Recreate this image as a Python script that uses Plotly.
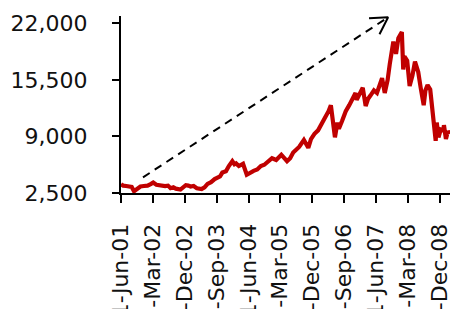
import math
import datetime as dt
import plotly.graph_objects as go

# ---- data ----
dates = [
    "2001-06-01", "2001-06-20", "2001-07-15", "2001-08-15", "2001-09-01", "2001-09-21",
    "2001-10-15", "2001-11-15", "2001-12-15", "2002-01-15", "2002-02-15", "2002-03-05",
    "2002-04-01", "2002-05-01", "2002-05-20", "2002-06-15", "2002-07-10", "2002-08-01",
    "2002-08-25", "2002-09-15", "2002-10-25", "2002-11-15", "2002-12-10", "2002-12-31",
    "2003-01-20", "2003-02-15", "2003-03-15", "2003-04-25", "2003-05-20", "2003-06-15",
    "2003-07-15", "2003-08-15", "2003-09-10", "2003-09-30", "2003-10-20", "2003-11-20",
    "2003-12-15", "2004-01-14", "2004-02-01", "2004-02-15", "2004-03-10", "2004-04-15",
    "2004-05-17", "2004-06-15", "2004-07-15", "2004-08-15", "2004-09-15", "2004-10-15",
    "2004-11-15", "2004-12-20", "2005-01-25", "2005-02-25", "2005-03-10", "2005-04-28",
    "2005-05-25", "2005-06-20", "2005-07-15", "2005-08-10", "2005-09-20", "2005-10-28",
    "2005-11-20", "2005-12-20", "2006-01-20", "2006-02-15", "2006-03-20", "2006-04-20",
    "2006-05-10", "2006-05-25", "2006-06-14", "2006-07-05", "2006-07-18", "2006-08-15",
    "2006-09-15", "2006-10-15", "2006-11-15", "2006-12-08", "2006-12-18", "2007-01-10",
    "2007-02-08", "2007-03-05", "2007-03-25", "2007-04-15", "2007-05-15", "2007-06-10",
    "2007-07-24", "2007-08-16", "2007-09-10", "2007-09-28", "2007-10-17", "2007-10-29",
    "2007-11-21", "2007-12-11", "2008-01-10", "2008-01-22", "2008-02-01", "2008-02-25",
    "2008-03-17", "2008-04-10", "2008-05-02", "2008-05-30", "2008-06-20", "2008-07-16",
    "2008-07-31", "2008-08-18", "2008-09-10", "2008-09-18", "2008-10-06", "2008-10-27",
    "2008-11-05", "2008-11-20", "2008-12-10", "2008-12-31", "2009-01-06", "2009-01-23",
    "2009-02-09", "2009-02-25",
]
index_values = [
    3500, 3350, 3300, 3250, 3200, 2700,
    2950, 3250, 3300, 3350, 3550, 3700,
    3450, 3400, 3250, 3300, 3350, 3050,
    3150, 3000, 2900, 3100, 3400, 3350,
    3250, 3300, 3050, 2950, 3150, 3550,
    3750, 4100, 4300, 4400, 4850, 5000,
    5600, 6150, 5800, 5900, 5600, 5850,
    4600, 4850, 5050, 5200, 5600, 5750,
    6100, 6500, 6300, 6700, 6900, 6150,
    6500, 7150, 7400, 7800, 8600, 7700,
    8700, 9300, 9700, 10300, 11200, 11900,
    12600, 10800, 8900, 10600, 9900, 10800,
    11900, 12600, 13500, 14000, 13200, 13900,
    14600, 12500, 13300, 13700, 14300, 14000,
    15700, 14000, 15500, 17300, 18700, 19900,
    18500, 20300, 21000, 16700, 18200, 17700,
    14800, 16000, 17600, 16400, 14600, 12600,
    14300, 14900, 14400, 13300, 11800, 8500,
    10600, 8900, 9800, 9700, 10300, 8700,
    9600, 9300,
]

tick_dates = ["2001-06-01", "2002-03-01", "2002-12-01", "2003-09-01", "2004-06-01",
              "2005-03-01", "2005-12-01", "2006-09-01", "2007-06-01", "2008-03-01",
              "2008-12-01"]
tick_labels = ["1-Jun-01", "1-Mar-02", "1-Dec-02", "1-Sep-03", "1-Jun-04",
               "1-Mar-05", "1-Dec-05", "1-Sep-06", "1-Jun-07", "1-Mar-08",
               "1-Dec-08"]
y_ticks = [2500, 9000, 15500, 22000]

arrow_start = ("2001-12-07", 4300)
arrow_end = ("2007-09-14", 22700)

# ---- layout geometry ----
W, H = 450, 309
ML, MR, MT, MB = 121, 0, 16, 116
x_range = ["2001-06-01", "2009-02-27"]
y_range = [2500, 22850]

plot_w = W - ML - MR
plot_h = H - MT - MB
d0 = dt.date.fromisoformat(x_range[0])
d1 = dt.date.fromisoformat(x_range[1])
px_per_day = plot_w / (d1 - d0).days
px_per_val = plot_h / (y_range[1] - y_range[0])

# open arrowhead arms computed in pixel space, converted back to data
sx = (dt.date.fromisoformat(arrow_start[0]) - d0).days * px_per_day
sy = -(arrow_start[1] - y_range[0]) * px_per_val
ex = (dt.date.fromisoformat(arrow_end[0]) - d0).days * px_per_day
ey = -(arrow_end[1] - y_range[0]) * px_per_val
back = math.atan2(sy - ey, sx - ex)
arm = 19
head_x, head_y = [], []
for sgn in (1, None, -1):
    if sgn is None:
        head_x.append(arrow_end[0]); head_y.append(arrow_end[1]); continue
    a = back + sgn * math.radians(30)
    dx = arm * math.cos(a); dy = arm * math.sin(a)
    dd = dt.date.fromisoformat(arrow_end[0]) + dt.timedelta(days=dx / px_per_day)
    head_x.append(dd.isoformat()); head_y.append(arrow_end[1] - dy / px_per_val)

fig = go.Figure()
fig.add_trace(go.Scatter(x=dates, y=index_values, mode="lines",
                         line=dict(color="#C00000", width=4.2), hoverinfo="skip"))
fig.add_trace(go.Scatter(x=[arrow_start[0], arrow_end[0]], y=[arrow_start[1], arrow_end[1]],
                         mode="lines", line=dict(color="black", width=2, dash="8px,6px"),
                         hoverinfo="skip"))
fig.add_trace(go.Scatter(x=head_x, y=head_y, mode="lines",
                         line=dict(color="black", width=2), hoverinfo="skip"))

font = dict(family="DejaVu Sans", size=22, color="#111111")
fig.update_layout(
    width=W, height=H, showlegend=False,
    margin=dict(l=ML, r=MR, t=MT, b=MB, pad=0),
    paper_bgcolor="white", plot_bgcolor="white",
    font=font,
    xaxis=dict(type="date", range=x_range, tickvals=tick_dates, ticktext=tick_labels,
               tickangle=-90, ticks="outside", ticklen=8, tickwidth=2, tickcolor="black",
               showline=True, linecolor="black", linewidth=2, showgrid=False,
               zeroline=False, automargin=False, ticklabelstandoff=12, tickfont=font,
               ticklabeloverflow="allow"),
    yaxis=dict(range=y_range, tickvals=y_ticks, tickformat=",", ticks="outside",
               ticklen=7, tickwidth=2, tickcolor="black", showline=True,
               linecolor="black", linewidth=2, showgrid=False, zeroline=False,
               automargin=False, ticklabelstandoff=20, tickfont=font),
)
fig.write_html("out.html", config={"displayModeBar": False},
               post_script="document.body.style.margin='0';document.body.style.overflow='hidden';")
